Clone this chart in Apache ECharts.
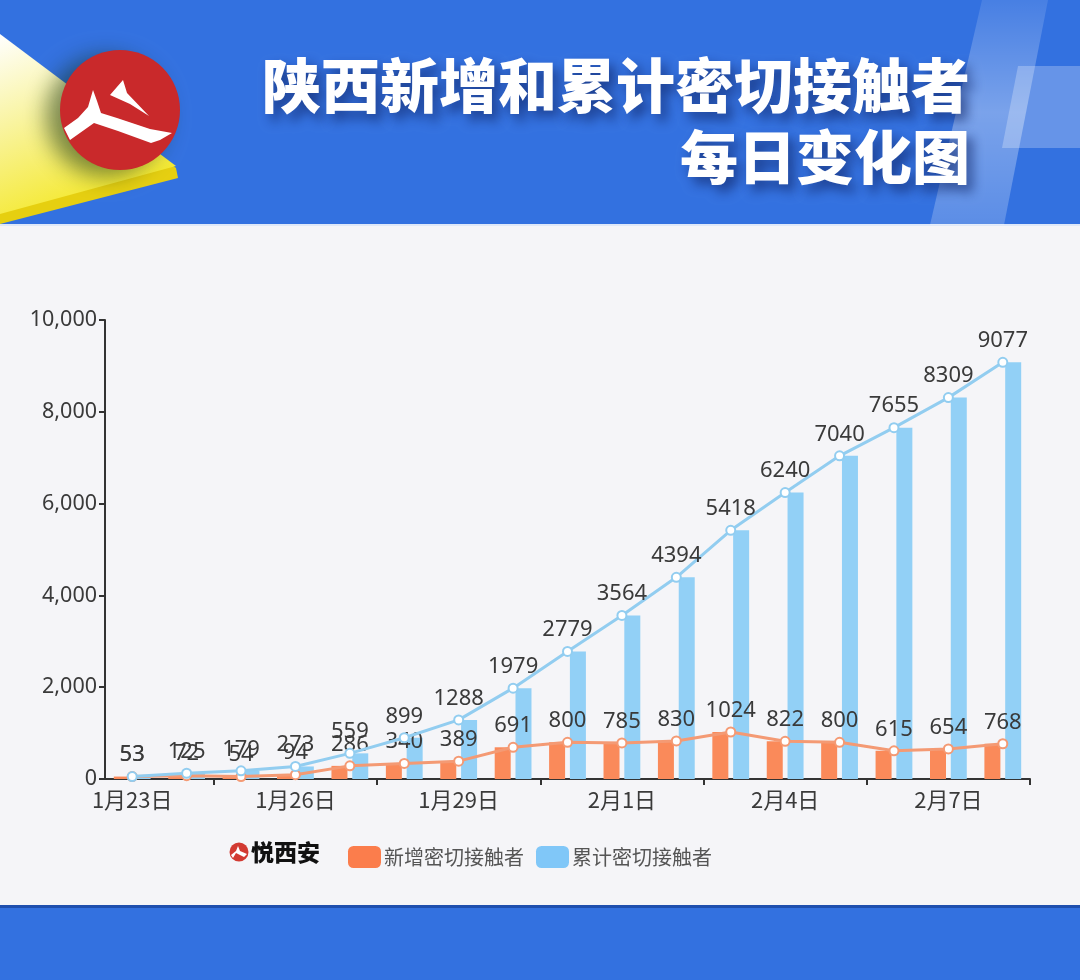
<!DOCTYPE html>
<html>
<head>
<meta charset="utf-8">
<script src="https://cdn.jsdelivr.net/npm/echarts@6/dist/echarts.min.js"></script>
<style>
html,body{margin:0;padding:0;background:#f5f5f8;}
#c{width:1080px;height:980px;}
</style>
</head>
<body>
<div id="c"></div>
<script>
const categories = ['1月23日','1月24日','1月25日','1月26日','1月27日','1月28日','1月29日','1月30日','1月31日','2月1日','2月2日','2月3日','2月4日','2月5日','2月6日','2月7日','2月8日'];
const newContacts = [53,72,54,94,286,340,389,691,800,785,830,1024,822,800,615,654,768];
const totalContacts = [53,125,179,273,559,899,1288,1979,2779,3564,4394,5418,6240,7040,7655,8309,9077];
const yTicks = [0,2000,4000,6000,8000,10000];
const seriesNames = ['新增密切接触者','累计密切接触者'];
const titleLines = ['陕西新增和累计密切接触者','每日变化图'];

const chart = echarts.init(document.getElementById('c'), null, {renderer:'canvas'});
const ORANGE_BAR = '#fa8a5a', BLUE_BAR = '#92d0f6';
const ORANGE_LINE = '#f49a74', BLUE_LINE = '#92cdf0';
const labelStyle = {show:true, position:'top', fontSize:22, color:'#3a3a3a', fontFamily:'Noto Sans'};

const option = {
  backgroundColor:'#f5f5f8',
  animation:false,
  graphic:[
    // header
    {type:'rect', z:-10, shape:{x:0,y:0,width:1080,height:225}, style:{fill:'#3371e0'}},
    {type:'rect', z:-9, shape:{x:0,y:224,width:1080,height:2}, style:{fill:'#dfe8f8'}},
    // light slanted shape on right
    {type:'polygon', z:-8, shape:{points:[[982,0],[1048,0],[1004,225],[930,225]]},
      style:{fill:new echarts.graphic.LinearGradient(0,0,0,1,[{offset:0,color:'rgba(255,255,255,0.10)'},{offset:0.5,color:'rgba(255,255,255,0.35)'},{offset:1,color:'rgba(255,255,255,0.20)'}])}},
    {type:'polygon', z:-8, shape:{points:[[1018,66],[1080,66],[1080,148],[1002,148]]},
      style:{fill:'rgba(255,255,255,0.25)'}},
    // yellow slab
    {type:'polygon', z:-7, shape:{points:[[0,40],[176,168],[178,178],[0,224]]}, style:{fill:'#e6cf10'}},
    {type:'polygon', z:-6, shape:{points:[[0,34],[176,166],[0,214]]},
      style:{fill:new echarts.graphic.LinearGradient(0,0,0.4,1,[{offset:0,color:'#ffffff'},{offset:0.45,color:'#f9f4a0'},{offset:1,color:'#f4e82a'}])}},
    // red logo circle
    {type:'circle', z:-5, shape:{cx:120,cy:110,r:60}, style:{fill:'#c9292b', shadowColor:'rgba(20,50,20,0.55)', shadowBlur:22, shadowOffsetX:-14, shadowOffsetY:6}},
    {type:'polygon', z:-4, shape:{points:[[64,128],[78,118],[88,107],[93,90],[97,101],[101,113],[117,118],[150,129],[172,133],[160,140],[151,143],[118,131],[94,123],[70,140]]}, style:{fill:'#ffffff'}},
    {type:'polygon', z:-4, shape:{points:[[110,95],[123,80],[127,93],[149,116],[130,104]]}, style:{fill:'#ffffff'}},
    // title
    {type:'text', z:-3, style:{text:titleLines[0], x:970, y:86, align:'right', verticalAlign:'middle', fill:'#ffffff',
      font:'900 59px "Noto Sans CJK SC"', textShadowColor:'rgba(15,35,100,0.65)', textShadowBlur:12, textShadowOffsetX:6, textShadowOffsetY:7}},
    {type:'text', z:-3, style:{text:titleLines[1], x:970, y:157, align:'right', verticalAlign:'middle', fill:'#ffffff',
      font:'900 58px "Noto Sans CJK SC"', textShadowColor:'rgba(15,35,100,0.65)', textShadowBlur:12, textShadowOffsetX:6, textShadowOffsetY:7}},
    // bottom band
    {type:'rect', z:-10, shape:{x:0,y:906,width:1080,height:74}, style:{fill:'#3371e0'}},
    {type:'rect', z:-9, shape:{x:0,y:905,width:1080,height:3}, style:{fill:'#1f4fae'}},
    // brand in legend row
    {type:'circle', shape:{cx:239,cy:852,r:9.5}, style:{fill:'#d23a32'}},
    {type:'polygon', shape:{points:[[231,855],[236,851],[238,846],[240,851],[247,854],[244,857],[236,853],[233,858]]}, style:{fill:'#ffffff'}},
    {type:'text', style:{text:'悦西安', x:251, y:852, verticalAlign:'middle', fill:'#111111', font:'900 23px "Noto Sans CJK SC"'}}
  ],
  legend:{
    left:343, top:841, itemWidth:33, itemHeight:22, itemGap:12, icon:'roundRect',
    data:[{name:seriesNames[0], itemStyle:{color:'#fb7d4c'}},{name:seriesNames[1], itemStyle:{color:'#80c7f8'}}],
    textStyle:{fontSize:20, color:'#555', fontFamily:'Noto Sans CJK SC', padding:[0,0,0,-2]}
  },
  grid:{left:105, right:50, top:320, bottom:201},
  xAxis:{
    type:'category', data:categories, boundaryGap:true,
    axisLine:{lineStyle:{color:'#333', width:2}},
    axisTick:{show:true, length:6, lineStyle:{color:'#333', width:2}, interval:function(i){return i%3===2;}},
    axisLabel:{interval:2, fontSize:22, color:'#3a3a3a', margin:10, fontFamily:'Noto Sans CJK SC'}
  },
  yAxis:{
    type:'value', min:yTicks[0], max:yTicks[yTicks.length-1], interval:2000,
    axisLine:{show:true, lineStyle:{color:'#333', width:2}},
    axisTick:{show:true, length:6, lineStyle:{color:'#333', width:2}},
    splitLine:{show:false},
    axisLabel:{fontSize:21.5, color:'#3a3a3a', margin:8, fontFamily:'Noto Sans',
      formatter:function(v){return v.toString().replace(/\B(?=(\d{3})+(?!\d))/g, ',');}}
  },
  series:[
    {name:seriesNames[0], type:'bar', data:newContacts, barWidth:16, barGap:'30%', itemStyle:{color:ORANGE_BAR}, z:2},
    {name:seriesNames[1], type:'bar', data:totalContacts, barWidth:16, barGap:'30%', itemStyle:{color:BLUE_BAR}, z:2},
    {name:seriesNames[0], type:'line', data:newContacts, symbol:'emptyCircle', symbolSize:9,
      lineStyle:{color:ORANGE_LINE, width:3}, itemStyle:{color:ORANGE_LINE, borderWidth:2}, label:labelStyle, z:4},
    {name:seriesNames[1], type:'line', data:totalContacts, symbol:'emptyCircle', symbolSize:9,
      lineStyle:{color:BLUE_LINE, width:3}, itemStyle:{color:BLUE_LINE, borderWidth:2}, label:labelStyle, z:5}
  ]
};
chart.setOption(option);
</script>
</body>
</html>
